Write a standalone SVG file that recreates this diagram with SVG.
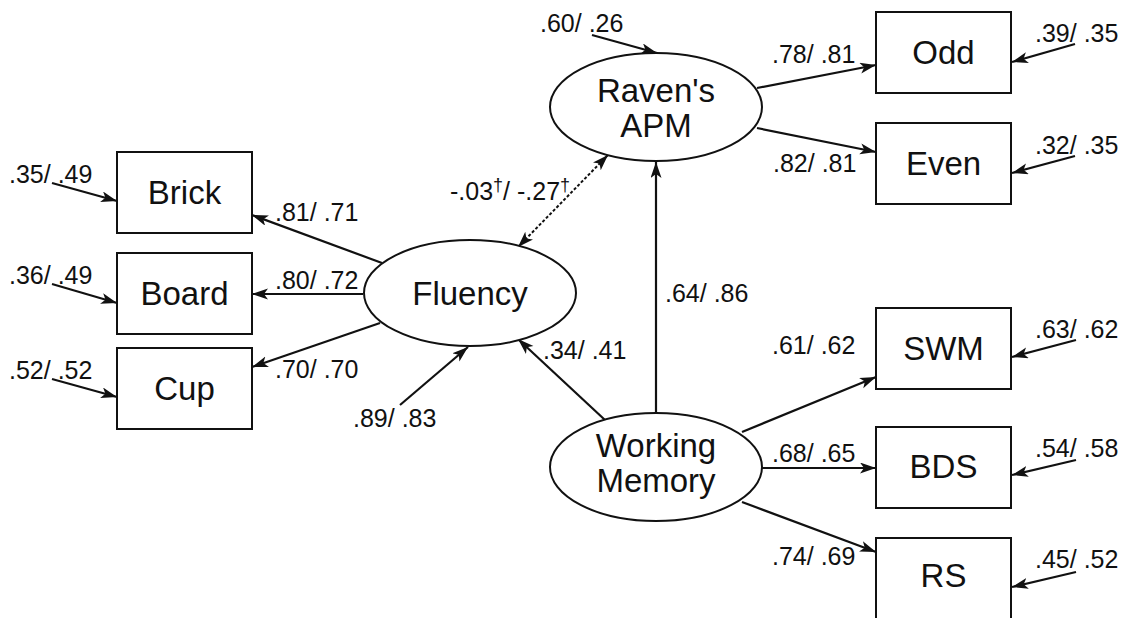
<svg xmlns="http://www.w3.org/2000/svg" width="1127" height="618" viewBox="0 0 1127 618">
<style>
.n{fill:#fff;stroke:#111;stroke-width:2}
.t{font-family:"Liberation Sans",Arial,sans-serif;font-size:33px;fill:#111;text-anchor:middle}
.l{font-family:"Liberation Sans",Arial,sans-serif;font-size:25px;fill:#111}
.c{fill:none;stroke:#111;stroke-width:2.2;marker-end:url(#ah)}
.d{fill:none;stroke:#111;stroke-width:2;stroke-dasharray:3 2;marker-end:url(#ah);marker-start:url(#ah)}
.s{font-size:18px}
</style>
<defs>
<marker id="ah" markerUnits="userSpaceOnUse" markerWidth="18" markerHeight="12" refX="16" refY="5.5" orient="auto-start-reverse">
<path d="M0,0 L16,5.5 L0,11 L4,5.5 z" fill="#111"/>
</marker>
</defs>
<rect width="1127" height="618" fill="#fff"/>
<g id="connectors">
<path class="c" d="M592,35 L657,53"/>
<path class="c" d="M757,88 L876,65"/>
<path class="c" d="M757,128 L876,152"/>
<path class="c" d="M1075,44 L1012,62"/>
<path class="c" d="M1075,156 L1012,173"/>
<path class="c" d="M656,413 L656,162"/>
<path class="d" d="M518,247 L608,155"/>
<path class="c" d="M382,263 L252,215"/>
<path class="c" d="M363,294 L252,294"/>
<path class="c" d="M380,323 L252,367"/>
<path class="c" d="M52,183 L117,201"/>
<path class="c" d="M52,284 L117,303"/>
<path class="c" d="M52,379 L117,397"/>
<path class="c" d="M400,405 L468,347"/>
<path class="c" d="M605,420 L518,339"/>
<path class="c" d="M742,432 L876,377"/>
<path class="c" d="M762,468 L876,468"/>
<path class="c" d="M742,502 L876,552"/>
<path class="c" d="M1076,340 L1012,357"/>
<path class="c" d="M1076,460 L1012,475"/>
<path class="c" d="M1076,572 L1012,587"/>
</g>
<g id="labels">
<text class="l" x="540" y="32">.60/ .26</text>
<text class="l" x="772" y="63">.78/ .81</text>
<text class="l" x="773" y="172">.82/ .81</text>
<text class="l" x="1035" y="42">.39/ .35</text>
<text class="l" x="1035" y="154">.32/ .35</text>
<text class="l" x="450" y="200">-.03<tspan class="s" dy="-9">†</tspan><tspan dy="9">/ -.27</tspan><tspan class="s" dy="-9">†</tspan></text>
<text class="l" x="275" y="221">.81/ .71</text>
<text class="l" x="275" y="289">.80/ .72</text>
<text class="l" x="275" y="378">.70/ .70</text>
<text class="l" x="9" y="183">.35/ .49</text>
<text class="l" x="9" y="284">.36/ .49</text>
<text class="l" x="9" y="379">.52/ .52</text>
<text class="l" x="353" y="427">.89/ .83</text>
<text class="l" x="543" y="359">.34/ .41</text>
<text class="l" x="665" y="302">.64/ .86</text>
<text class="l" x="772" y="354">.61/ .62</text>
<text class="l" x="772" y="462">.68/ .65</text>
<text class="l" x="772" y="565">.74/ .69</text>
<text class="l" x="1035" y="338">.63/ .62</text>
<text class="l" x="1035" y="457">.54/ .58</text>
<text class="l" x="1035" y="568">.45/ .52</text>
</g>
<g id="raven"><ellipse class="n" cx="656" cy="107" rx="106" ry="54"/><text class="t" x="656" y="102">Raven's</text><text class="t" x="656" y="137">APM</text></g>
<g id="fluency"><ellipse class="n" cx="470" cy="293" rx="106" ry="53"/><text class="t" x="470" y="305">Fluency</text></g>
<g id="wm"><ellipse class="n" cx="656" cy="467" rx="106" ry="54"/><text class="t" x="656" y="457">Working</text><text class="t" x="656" y="492">Memory</text></g>
<g id="odd"><rect class="n" x="876" y="12" width="135" height="81"/><text class="t" x="943.5" y="64">Odd</text></g>
<g id="even"><rect class="n" x="876" y="123" width="135" height="81"/><text class="t" x="943.5" y="175">Even</text></g>
<g id="brick"><rect class="n" x="117" y="152" width="135" height="81"/><text class="t" x="184.5" y="204">Brick</text></g>
<g id="board"><rect class="n" x="117" y="253" width="135" height="81"/><text class="t" x="184.5" y="305">Board</text></g>
<g id="cup"><rect class="n" x="117" y="348" width="135" height="81"/><text class="t" x="184.5" y="400">Cup</text></g>
<g id="swm"><rect class="n" x="876" y="308" width="135" height="81"/><text class="t" x="943.5" y="360">SWM</text></g>
<g id="bds"><rect class="n" x="876" y="427" width="135" height="81"/><text class="t" x="943.5" y="478">BDS</text></g>
<g id="rs"><rect class="n" x="876" y="538" width="135" height="81"/><text class="t" x="943.5" y="587">RS</text></g>
</svg>
